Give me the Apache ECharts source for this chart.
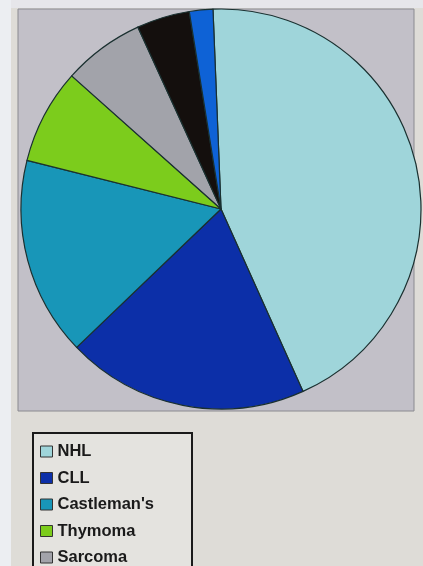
<!DOCTYPE html>
<html>
<head>
<meta charset="utf-8">
<script src="https://cdn.jsdelivr.net/npm/echarts@6/dist/echarts.min.js"></script>
<style>
  html, body { margin: 0; padding: 0; background: #eceef2; }
  #chart { width: 423px; height: 566px; }
</style>
</head>
<body>
<div id="chart"></div>
<script>
// Neoplasms in the case series (share of cases, %)
const categories = ["NHL", "CLL", "Castleman's", "Thymoma", "Sarcoma", "Waldenström's", "Other"];
const shares = [44.0, 19.6, 16.1, 7.7, 6.6, 4.3, 1.9];
const sliceColors = ["#9fd5da", "#0c2fa8", "#1896b8", "#7ccc1c", "#a2a3aa", "#140f0d", "#0e62d6"];

const chart = echarts.init(document.getElementById('chart'), null, { renderer: 'canvas' });

const pieData = categories.map((name, i) => ({
  name: name,
  value: shares[i],
  itemStyle: { color: sliceColors[i] }
}));

chart.setOption({
  animation: false,
  backgroundColor: '#eceef2',
  graphic: [
    // slide panel
    { type: 'rect', z: -10, shape: { x: 11, y: 0, width: 412, height: 566 }, style: { fill: '#dedcd7' } },
    { type: 'rect', z: -9, shape: { x: 11, y: 0, width: 412, height: 8 }, style: { fill: '#e6e6ea' } },
    // plot area
    { type: 'rect', z: -8, shape: { x: 18, y: 9, width: 396, height: 402 },
      style: { fill: '#c2c0c8', stroke: '#8a8a90', lineWidth: 1 } },
    // legend frame
    { type: 'rect', z: -7, shape: { x: 33, y: 433, width: 159, height: 200 },
      style: { fill: '#e4e3df', stroke: '#1a1a1a', lineWidth: 2 } }
  ],
  legend: {
    type: 'plain',
    orient: 'vertical',
    left: 40,
    top: 443,
    width: 150,
    height: 400,
    padding: 0,
    itemWidth: 12,
    itemHeight: 11,
    itemGap: 9.5,
    icon: 'rect',
    itemStyle: { borderColor: '#333', borderWidth: 1 },
    textStyle: {
      fontFamily: 'Liberation Sans, Arial, sans-serif',
      fontWeight: 'bold',
      fontSize: 16.5,
      lineHeight: 16,
      color: '#1a1a1a'
    },
    data: categories
  },
  series: [{
    type: 'pie',
    center: [221, 209],
    radius: [0, 200],
    startAngle: 92.3,
    clockwise: true,
    label: { show: false },
    labelLine: { show: false },
    emphasis: { disabled: true },
    itemStyle: { borderColor: '#1a3030', borderWidth: 1.2 },
    data: pieData
  }]
});
</script>
</body>
</html>
